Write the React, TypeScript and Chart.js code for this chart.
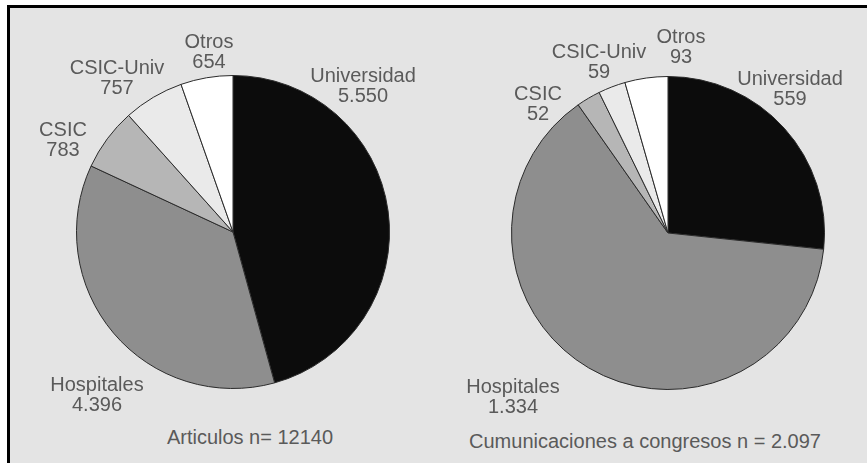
import React, { useEffect, useRef } from "react";
import { Chart, registerables } from "chart.js";

Chart.register(...registerables);

// ---- data ----
const categories = ["Universidad", "Hospitales", "CSIC", "CSIC-Univ", "Otros"];
const articulos = [5550, 4396, 783, 757, 654];
const comunicaciones = [559, 1334, 52, 59, 93];
const titleArticulos = "Articulos n= 12140";
const titleComunicaciones = "Cumunicaciones a congresos n = 2.097";

// ---- styles ----
const sliceColors = ["#0c0c0c", "#8e8e8e", "#b6b6b6", "#eaeaea", "#ffffff"];
const textColor = "#5a5a5a";
const fontFamily = "'Liberation Sans', Arial, sans-serif";

const fmt = (v: number) => String(v).replace(/\B(?=(\d{3})+(?!\d))/g, ".");

// label anchor positions (center x, top y) per category, relative to page
const leftLabelPos = [
  [363, 65],
  [97, 374],
  [63, 119],
  [117, 57],
  [209, 31],
];
const rightLabelPos = [
  [790, 68],
  [513, 376],
  [538, 83],
  [599, 41],
  [681, 26],
];

function Pie({ values, left, top, size }: { values: number[]; left: number; top: number; size: number }) {
  const ref = useRef<HTMLCanvasElement | null>(null);
  useEffect(() => {
    if (!ref.current) return;
    const chart = new Chart(ref.current, {
      type: "pie",
      data: {
        labels: categories,
        datasets: [
          {
            data: values,
            backgroundColor: sliceColors,
            borderColor: "#2a2a2a",
            borderWidth: 1,
          },
        ],
      },
      options: {
        animation: false,
        responsive: false,
        maintainAspectRatio: false,
        layout: { padding: 0 },
        plugins: { legend: { display: false }, tooltip: { enabled: false } },
      },
    });
    return () => chart.destroy();
  }, [values]);
  return (
    <canvas
      ref={ref}
      width={size}
      height={size}
      style={{ position: "absolute", left, top, width: size, height: size }}
    />
  );
}

function Label({ x, y, lines }: { x: number; y: number; lines: string[] }) {
  return (
    <div
      style={{
        position: "absolute",
        left: x - 250,
        top: y,
        width: 500,
        textAlign: "center",
        fontFamily,
        fontSize: 20,
        lineHeight: "20px",
        color: textColor,
        whiteSpace: "nowrap",
      }}
    >
      {lines.map((l, i) => (
        <div key={i}>{l}</div>
      ))}
    </div>
  );
}

export default function App() {
  return (
    <div
      style={{
        position: "absolute",
        left: 0,
        top: 0,
        width: 867,
        height: 463,
        overflow: "hidden",
        background: "#ffffff",
      }}
    >
      <div
        style={{
          position: "absolute",
          left: 7,
          top: 5,
          width: 900,
          height: 520,
          borderLeft: "3px solid #000",
          borderTop: "3px solid #000",
          background: "#e4e4e4",
        }}
      />
      <Pie values={articulos} left={76} top={75} size={314} />
      <Pie values={comunicaciones} left={511} top={76} size={314} />
      {categories.map((c, i) => (
        <Label key={"l" + i} x={leftLabelPos[i][0]} y={leftLabelPos[i][1]} lines={[c, fmt(articulos[i])]} />
      ))}
      {categories.map((c, i) => (
        <Label key={"r" + i} x={rightLabelPos[i][0]} y={rightLabelPos[i][1]} lines={[c, fmt(comunicaciones[i])]} />
      ))}
      <Label x={250} y={427} lines={[titleArticulos]} />
      <Label x={645} y={431} lines={[titleComunicaciones]} />
    </div>
  );
}
